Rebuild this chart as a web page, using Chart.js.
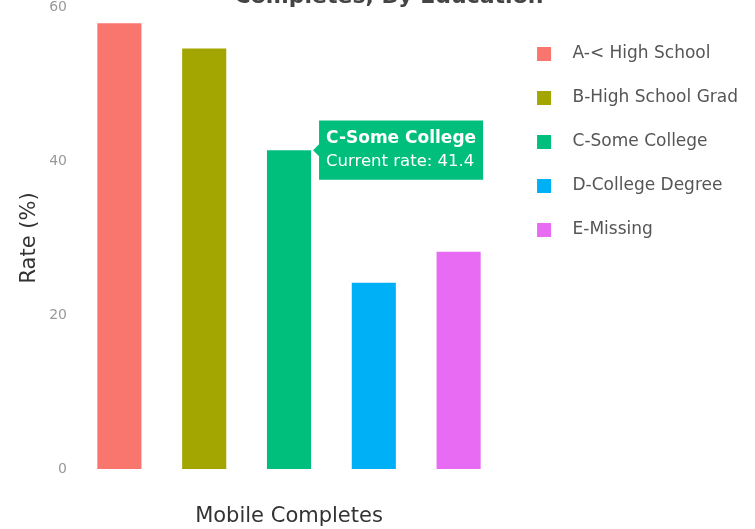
<!DOCTYPE html>
<html>
<head>
<meta charset="utf-8">
<script src="https://cdn.jsdelivr.net/npm/chart.js@4/dist/chart.umd.min.js"></script>
<style>
  html, body { margin: 0; padding: 0; background: #fff; }
  #wrap { width: 755px; height: 529px; }
</style>
</head>
<body>
<div id="wrap"><canvas id="rateChart"></canvas></div>
<script>
var categories = ['Mobile Completes'];
var groups = ['A-< High School', 'B-High School Grad', 'C-Some College', 'D-College Degree', 'E-Missing'];
var rates = [57.9, 54.6, 41.4, 24.2, 28.2];
var barColors = ['#F8766D', '#A3A500', '#00BF7D', '#00B0F6', '#E76BF3'];
var yTicks = [0, 20, 40, 60];
var activeGroup = 2;

var FONT = "'DejaVu Sans', Verdana, sans-serif";

// legend swatch: square sitting inside a wider transparent strip
function swatch(color) {
    var c = document.createElement('canvas');
    c.width = 36;
    c.height = 14;
    var g = c.getContext('2d');
    g.fillStyle = color;
    g.fillRect(9, 0, 14, 14);
    return c;
}

// tooltip anchored at the right edge of the bar top
Chart.Tooltip.positioners.barEdge = function (items) {
    if (!items.length) return false;
    var el = items[0].element;
    return {x: el.x + el.width / 2, y: el.y};
};

// title text at the very top of the canvas
var topTitle = {
    id: 'topTitle',
    afterDraw: function (chart) {
        var ctx = chart.ctx;
        ctx.save();
        ctx.font = 'bold 22px ' + FONT;
        ctx.fillStyle = '#444';
        ctx.textAlign = 'center';
        ctx.textBaseline = 'alphabetic';
        ctx.fillText('Completes, By Education', 389, 3);
        ctx.restore();
    }
};

var datasets = groups.map(function (g, i) {
    return {
        label: g,
        data: [rates[i]],
        backgroundColor: barColors[i],
        borderWidth: 0,
        categoryPercentage: 1.0,
        barPercentage: 0.52
    };
});

var ctx = document.getElementById('rateChart');
var chart = new Chart(ctx, {
    type: 'bar',
    data: {labels: categories, datasets: datasets},
    plugins: [topTitle],
    options: {
        responsive: true,
        maintainAspectRatio: false,
        animation: false,
        events: [],
        layout: {padding: {top: 0, right: 7, bottom: 0, left: 0}},
        scales: {
            x: {
                grid: {display: false, drawTicks: false},
                border: {display: false},
                ticks: {display: false},
                title: {display: true, text: categories[0], color: '#333',
                        font: {family: FONT, size: 21}, padding: {top: 0, bottom: 0}},
                afterFit: function (scale) { scale.height = 60; }
            },
            y: {
                min: yTicks[0],
                max: yTicks[yTicks.length - 1],
                grid: {display: false, drawTicks: false},
                border: {display: false},
                afterBuildTicks: function (scale) {
                    scale.ticks = yTicks.map(function (v) { return {value: v}; });
                },
                ticks: {color: '#999', padding: 10, font: {family: FONT, size: 14}},
                title: {display: true, text: 'Rate (%)', color: '#333',
                        font: {family: FONT, size: 21}, padding: {top: 17.4, bottom: 0}},
                afterFit: function (scale) {
                    scale.width = 77;
                    scale.paddingTop = 7;
                }
            }
        },
        plugins: {
            legend: {
                position: 'right',
                align: 'start',
                maxWidth: 400,
                // empty title only pushes the items down
                title: {display: true, text: '', padding: 0, font: {size: 15}},
                labels: {
                    usePointStyle: true,
                    pointStyleWidth: 36,
                    padding: 27,
                    font: {family: FONT, size: 17},
                    generateLabels: function (c) {
                        return c.data.datasets.map(function (ds, i) {
                            return {
                                text: ds.label,
                                fontColor: '#555',
                                fillStyle: ds.backgroundColor,
                                strokeStyle: ds.backgroundColor,
                                lineWidth: 0,
                                pointStyle: swatch(ds.backgroundColor),
                                hidden: false,
                                datasetIndex: i
                            };
                        });
                    }
                }
            },
            tooltip: {
                enabled: true,
                position: 'barEdge',
                xAlign: 'left',
                yAlign: 'center',
                backgroundColor: barColors[activeGroup],
                cornerRadius: 0,
                caretSize: 6,
                caretPadding: 2,
                padding: {left: 7, right: 7, top: 8, bottom: 8},
                displayColors: false,
                titleColor: '#fff',
                bodyColor: '#fff',
                titleFont: {family: FONT, size: 17, weight: 'bold'},
                bodyFont: {family: FONT, size: 16.5},
                titleMarginBottom: 3,
                callbacks: {
                    title: function (items) { return items[0].dataset.label; },
                    label: function (item) { return 'Current rate: ' + item.raw; }
                }
            }
        }
    }
});

chart.tooltip.setActiveElements([{datasetIndex: activeGroup, index: 0}], {x: 0, y: 0});
chart.update();
</script>
</body>
</html>
